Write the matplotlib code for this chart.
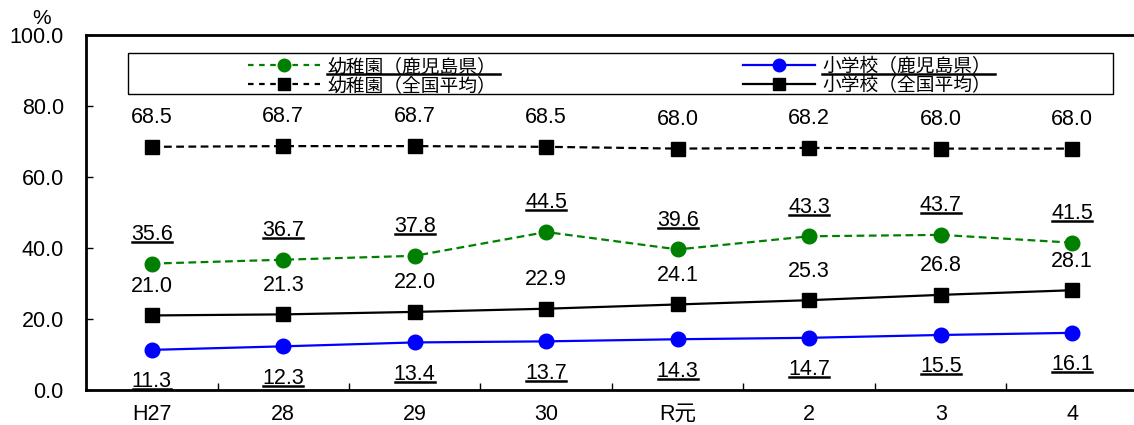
import numpy as np
import matplotlib
matplotlib.use("Agg")
import matplotlib.pyplot as plt
from matplotlib.lines import Line2D
from matplotlib.patches import Rectangle
from matplotlib.transforms import IdentityTransform

plt.rcParams['font.family'] = ['Liberation Sans', 'Noto Sans CJK JP']

# dati
years = ["H27", "28", "29", "30", "R元", "2", "3", "4"]
kinder_kago = [35.6, 36.7, 37.8, 44.5, 39.6, 43.3, 43.7, 41.5]
kinder_zenkoku = [68.5, 68.7, 68.7, 68.5, 68.0, 68.2, 68.0, 68.0]
shou_kago = [11.3, 12.3, 13.4, 13.7, 14.3, 14.7, 15.5, 16.1]
shou_zenkoku = [21.0, 21.3, 22.0, 22.9, 24.1, 25.3, 26.8, 28.1]
yticks = [0, 20, 40, 60, 80, 100]

series = [
    # label, values, color, linestyle, marker, label offset (pt), underline
    ("幼稚園（鹿児島県）", kinder_kago, "#008000", "--", "o", 21, True),
    ("幼稚園（全国平均）", kinder_zenkoku, "black", "--", "s", 21, False),
    ("小学校（鹿児島県）", shou_kago, "#0000ff", "-", "o", -23, True),
    ("小学校（全国平均）", shou_zenkoku, "black", "-", "s", 21, False),
]

W, H = 1134, 425
fig = plt.figure(figsize=(W/100, H/100), dpi=100)
ax = fig.add_axes([86/W, (H-390)/H, 1052/W, 355/H])

x = np.arange(len(years))
underlined = []
for lab, vals, col, ls, mk, off, ul in series:
    ln, = ax.plot(x, vals, color=col, linestyle=ls, marker=mk, lw=1.6,
                  markersize=10.5 if mk == "o" else 10, clip_on=False)
    if ls == "--":
        ln.set_dashes((3.5, 2))
    for xi, v in zip(x, vals):
        t = ax.annotate(f"{v:.1f}", (xi, v), xytext=(0, off), textcoords="offset points",
                        ha="center", va="center", fontsize=15.5)
        if ul:
            underlined.append(t)

ax.set_xlim(-0.5, len(years) - 0.5)
ax.set_ylim(0, 100)
ax.set_yticks(yticks)
ax.set_yticklabels([f"{v:.1f}" for v in yticks])
ax.set_xticks(x)
ax.set_xticklabels(years)
ax.set_xticks(np.arange(0.5, len(years) - 1, 1), minor=True)
ax.tick_params(axis="y", direction="in", length=5, width=1, labelsize=15.5, pad=16)
ax.tick_params(axis="x", which="major", length=0, labelsize=15.5, pad=10)
ax.tick_params(axis="x", which="minor", direction="in", length=5, width=1)
for s in ["left", "bottom", "top"]:
    ax.spines[s].set_linewidth(2)
ax.spines["right"].set_visible(False)

fig.text(42/W, 1 - 18/H, "%", ha="center", va="center", fontsize=15)

# legenda fatta a mano
def fy(y):
    return 1 - y/H

fig.add_artist(Rectangle((128/W, fy(94)), (1113-128)/W, 41/H, transform=fig.transFigure,
                         facecolor="white", edgecolor="black", lw=1))
leg_pos = [(248, 65), (248, 84), (743, 65), (743, 84)]
leg_texts = []
for (lab, vals, col, ls, mk, off, ul), (lx, ly) in zip(series, leg_pos):
    h = Line2D([lx/W, (lx+72)/W], [fy(ly), fy(ly)], transform=fig.transFigure, color=col,
               linestyle=ls, lw=1.6)
    if ls == "--":
        h.set_dashes((2.5, 2.5))
    fig.add_artist(h)
    fig.add_artist(Line2D([(lx+36)/W], [fy(ly)], transform=fig.transFigure, color=col,
                          marker=mk, markersize=9 if mk == "o" else 8.5, linestyle="none"))
    t = fig.text((lx+79)/W, fy(ly + 2), lab, ha="left", va="center", fontsize=13.5,
                 family="Noto Sans CJK JP")
    if ul:
        leg_texts.append(t)

# sottolineature sotto i numeri
fig.canvas.draw()
r = fig.canvas.get_renderer()
for t in underlined:
    bb = t.get_window_extent(r)
    yb = bb.y0 + 3
    fig.add_artist(Line2D([bb.x0 + 1, bb.x1 - 1], [yb, yb],
                          transform=IdentityTransform(), color="black", lw=1.8))
for t in leg_texts:
    bb = t.get_window_extent(r)
    fig.add_artist(Line2D([bb.x0, bb.x1 + 4], [fy(74)*H, fy(74)*H],
                          transform=IdentityTransform(), color="black", lw=1.8))

fig.savefig("out.png", dpi=100)
